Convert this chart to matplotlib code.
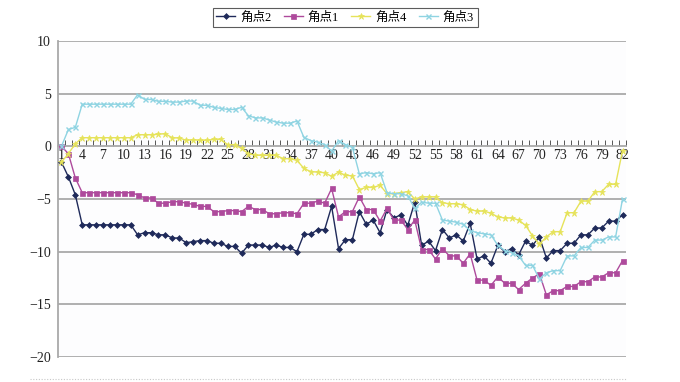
import matplotlib
matplotlib.use("Agg")
import matplotlib.pyplot as plt
from matplotlib.lines import Line2D
import numpy as np

plt.rcParams['font.family'] = ['Liberation Serif', 'Noto Sans CJK SC', 'DejaVu Sans']
plt.rcParams['axes.unicode_minus'] = True

categories = list(range(1, 83))
tick_labels = [str(i) for i in range(1, 83, 3)]

# 角点2
s2 = [-1.5, -2.9, -4.6] + [-7.45] * 8 + [
    -8.4, -8.2, -8.2, -8.4, -8.4, -8.7, -8.7, -9.15, -9.05, -8.95, -8.95,
    -9.2, -9.2, -9.5, -9.5, -10.15, -9.37, -9.37, -9.37, -9.6, -9.37, -9.6,
    -9.6, -10.0, -8.35, -8.35, -7.9, -7.9, -5.7, -9.7, -8.86, -8.86, -6.2,
    -7.4, -7.0, -8.2, -6.0, -6.8, -6.5, -7.5, -5.3, -9.4, -9.0, -9.9, -7.9,
    -8.7, -8.4, -9.0, -7.3, -10.7, -10.4, -11.1, -9.4, -10.0, -9.7, -10.3,
    -9.0, -9.4, -8.6, -10.6, -9.9, -9.9, -9.2, -9.2, -8.4, -8.4, -7.75,
    -7.75, -7.1, -7.1, -6.5]
# 角点1
s1 = [0.0, -0.7, -3.0] + [-4.4] * 8 + [
    -4.6, -4.9, -4.9, -5.4, -5.4, -5.25, -5.25, -5.4, -5.5, -5.7, -5.7,
    -6.2, -6.2, -6.1, -6.1, -6.2, -5.7, -6.0, -6.0, -6.4, -6.4, -6.3,
    -6.3, -6.4, -5.4, -5.4, -5.2, -5.4, -4.0, -6.7, -6.2, -6.2, -4.8,
    -6.0, -6.0, -7.1, -5.9, -7.0, -7.0, -7.9, -7.0, -9.8, -9.8, -10.7, -9.7,
    -10.4, -10.4, -11.1, -10.2, -12.7, -12.7, -13.2, -12.4, -13.0, -13.0, -13.6,
    -13.0, -12.5, -12.1, -14.1, -13.7, -13.7, -13.3, -13.3, -12.85, -12.85, -12.4,
    -12.4, -12.0, -12.0, -10.85]
# 角点4
s4 = [-1.5, -0.7, 0.25] + [0.82] * 8 + [
    1.1, 1.1, 1.1, 1.15, 1.2, 0.8, 0.8, 0.57, 0.63, 0.57, 0.57,
    0.66, 0.66, 0.16, 0.16, -0.2, -0.7, -0.85, -0.85, -0.85, -0.85, -1.17,
    -1.17, -1.33, -2.1, -2.4, -2.45, -2.5, -2.85, -2.45, -2.75, -2.8, -4.1,
    -3.9, -3.9, -3.7, -4.5, -4.5, -4.4, -4.3, -5.0, -4.8, -4.8, -4.8, -5.35,
    -5.45, -5.45, -5.55, -6.0, -6.15, -6.15, -6.35, -6.7, -6.8, -6.8, -7.0,
    -7.5, -8.5, -9.3, -8.6, -8.1, -8.1, -6.3, -6.3, -5.2, -5.2, -4.3,
    -4.3, -3.6, -3.6, -0.4]
# 角点3
s3 = [0.0, 1.6, 1.8] + [4.0] * 8 + [
    4.9, 4.45, 4.45, 4.27, 4.27, 4.2, 4.2, 4.3, 4.3, 3.9, 3.9,
    3.7, 3.6, 3.5, 3.5, 3.7, 2.9, 2.7, 2.7, 2.5, 2.3, 2.2,
    2.2, 2.4, 0.85, 0.55, 0.4, 0.16, -0.45, 0.55, 0.16, -0.1, -2.6,
    -2.5, -2.6, -2.5, -4.4, -4.5, -4.5, -4.7, -5.9, -5.3, -5.4, -5.4, -7.0,
    -7.1, -7.2, -7.4, -8.0, -8.2, -8.3, -8.4, -9.4, -9.9, -10.1, -10.4,
    -11.3, -11.3, -12.6, -12.0, -11.8, -11.8, -10.4, -10.4, -9.6, -9.6, -8.9,
    -8.9, -8.6, -8.6, -5.0]

series = [
    ("角点2", s2, "#1F2A5A", "D", 3.0),
    ("角点1", s1, "#AE4A9C", "s", 3.6),
    ("角点4", s4, "#E6E35A", "*", 4.6),
    ("角点3", s3, "#8FD4E2", "x", 3.6),
]

fig = plt.figure(figsize=(6.8, 3.82), dpi=100)
fig.patch.set_facecolor("white")
ax = fig.add_axes([58 / 680, 1 - 357 / 382, (626 - 58) / 680, (357 - 41) / 382])
ax.set_facecolor("#FDFDFE")

grid_color = "#A9A9A9"
for yv in [-20, -15, -10, -5, 5, 10]:
    ax.axhline(yv, color=grid_color, lw=1.3, zorder=1)

handles = []
for name, vals, col, mk, ms in series:
    h, = ax.plot(categories, vals, color=col, lw=1.0, marker=mk, markersize=ms,
                 markeredgewidth=1.0 if mk == "x" else 0.5,
                 markeredgecolor=col, label=name, zorder=3)
    handles.append(h)

ax.set_xlim(0.5, 82.5)
ax.set_ylim(-20, 10)
ax.set_yticks([-20, -15, -10, -5, 0, 5, 10])
ax.tick_params(axis='y', length=0, pad=5, labelsize=10, colors="#222222")

for sp in ["top", "right"]:
    ax.spines[sp].set_visible(False)
ax.spines["left"].set_color(grid_color)
ax.spines["left"].set_linewidth(1.3)
ax.spines["bottom"].set_position(("data", 0))
ax.spines["bottom"].set_color(grid_color)
ax.spines["bottom"].set_linewidth(1.3)

ax.set_xticks(list(range(1, 83, 3)))
ax.set_xticklabels(tick_labels)
ax.set_xticks(np.arange(0.5, 83, 1.0), minor=True)
ax.tick_params(axis='x', which='major', length=0, pad=2, labelsize=10, colors="#222222")
ax.tick_params(axis='x', which='minor', length=4, direction='in', color="#555555", width=0.7)

leg = fig.legend(handles=handles, loc="center", bbox_to_anchor=(345 / 680, 1 - 17.5 / 382),
                 ncol=4, frameon=True, fancybox=False, fontsize=9,
                 handlelength=1.5, columnspacing=1.0, handletextpad=0.4,
                 borderpad=0.3, edgecolor="#333333")
leg.get_frame().set_linewidth(0.8)

fig.add_artist(Line2D([30 / 680, 626 / 680], [1 - 379 / 382, 1 - 379 / 382],
                      transform=fig.transFigure, color="#C8C8C8", lw=0.8,
                      linestyle=(0, (1, 1.5))))

fig.savefig("out.png", dpi=100)
